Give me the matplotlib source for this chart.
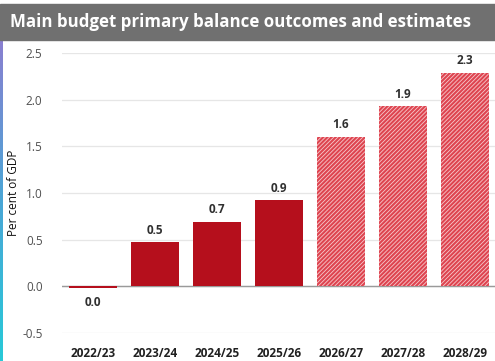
import matplotlib
matplotlib.use("Agg")
import matplotlib.pyplot as plt
from matplotlib.patches import Rectangle
import numpy as np

years = ["2022/23", "2023/24", "2024/25", "2025/26", "2026/27", "2027/28", "2028/29"]
values = [-0.02, 0.47, 0.69, 0.92, 1.60, 1.93, 2.29]
labels = ["0.0", "0.5", "0.7", "0.9", "1.6", "1.9", "2.3"]
is_estimate = [False, False, False, False, True, True, True]

plt.rcParams["font.family"] = ["Open Sans", "DejaVu Sans"]
plt.rcParams["hatch.linewidth"] = 0.6

fig = plt.figure(figsize=(4.95, 3.61), dpi=100)
W, H = 495, 361

# title band
fig.patches.append(Rectangle((0, 1 - 40 / H), 1, 36 / H, transform=fig.transFigure,
                             color="#707070", zorder=0))
fig.text(10 / W, 1 - 22 / H, "Main budget primary balance outcomes and estimates",
         color="white", fontsize=12.2, fontweight="bold", va="center", ha="left")

# left edge gradient strip
strip = fig.add_axes([0, 0, 3 / W, 1 - 40 / H])
grad = np.linspace(0, 1, 256).reshape(-1, 1)
strip.imshow(grad, aspect="auto", cmap=matplotlib.colors.LinearSegmentedColormap.from_list(
    "edge", ["#8a7fd0", "#4aa6d6", "#27c9d8"]))
strip.axis("off")

ax = fig.add_axes([62 / W, 1 - 333 / H, 434 / W, 280 / H])
x = np.arange(len(years))
for xi, v, est in zip(x, values, is_estimate):
    if est:
        ax.bar(xi, v, 0.76, color="#de4450", edgecolor="#f6c9cc", linewidth=0,
               hatch="////////", zorder=3)
    else:
        ax.bar(xi, v, 0.76, color="#b50f1c", linewidth=0, zorder=3)

for xi, v, lab in zip(x, values, labels):
    if v >= 0:
        ax.text(xi, v + 0.06, lab, ha="center", va="bottom", fontsize=8.5,
                fontweight="bold", color="#303030")
    else:
        ax.text(xi, v - 0.08, lab, ha="center", va="top", fontsize=8.5,
                fontweight="bold", color="#303030")

ax.set_xlim(-0.5, 6.5)
ax.set_ylim(-0.5, 2.5)
ax.set_yticks(np.arange(-0.5, 2.51, 0.5))
ax.set_yticklabels([f"{t:.1f}" for t in np.arange(-0.5, 2.51, 0.5)])
ax.set_xticks(x)
ax.set_xticklabels(years, fontweight="bold", fontsize=8.5, color="#202020")
ax.tick_params(axis="y", labelsize=8.5, labelcolor="#505050", length=0, pad=14)
ax.tick_params(axis="x", length=0, pad=10)
ax.xaxis.set_ticks_position("none")
for s in ax.spines.values():
    s.set_visible(False)
ax.yaxis.grid(True, color="#e6e6e6", linewidth=0.9)
ax.set_axisbelow(True)
ax.axhline(0, color="#9a9a9a", linewidth=1.0, zorder=2)
ax.set_ylabel("Per cent of GDP", fontsize=8.5, color="#111111")
ax.yaxis.set_label_coords(-(62 - 20) / 434, 0.5)

fig.savefig("out.png", dpi=100)
